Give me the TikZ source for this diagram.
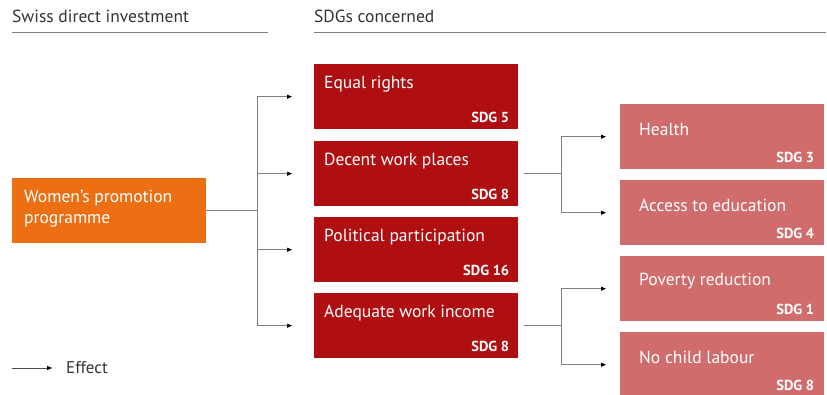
\documentclass[tikz,border=0pt]{standalone}
\usepackage{fontspec}
\setmainfont{PT Sans}
\usepackage{tikz}
\usetikzlibrary{positioning,arrows.meta,calc}
\usepackage{xcolor}
\definecolor{sdgorange}{HTML}{EC7013}
\definecolor{sdgred}{HTML}{B00F12}
\definecolor{sdgpink}{HTML}{D16C6D}
\definecolor{linegray}{HTML}{7F7F7F}
\definecolor{headgray}{HTML}{333333}

\begin{document}
\begin{tikzpicture}[
    x=1pt, y=-1pt,
    box/.style={rectangle, anchor=north west, minimum width=204pt, minimum height=65pt, inner sep=0pt},
    redbox/.style={box, fill=sdgred},
    pinkbox/.style={box, fill=sdgpink},
    boxtitle/.style={anchor=west, text=white, inner sep=0pt, font=\fontsize{17.5}{20}\selectfont},
    sdglabel/.style={anchor=east, text=white, inner sep=0pt, font=\fontsize{14.5}{17}\selectfont\bfseries},
    heading/.style={anchor=base west, text=headgray, inner sep=0pt, font=\fontsize{17.5}{20}\selectfont},
    effect/.style={draw=linegray, line width=0.8pt, -{Triangle[length=5pt, width=4pt, color=black]}, shorten >=22pt},
]
\useasboundingbox (0,0) rectangle (827,394);

% headings
\node[heading] (hleft) at (12,22) {Swiss direct investment};
\node[heading] (hright) at (314,22) {SDGs concerned};
\draw[linegray, line width=0.8pt] (12,32) -- (268,32);
\draw[linegray, line width=0.8pt] (314,32) -- (826,32);

% source
\node[box, fill=sdgorange, minimum width=194pt] (women) at (12,178) {};
\node[anchor=north west, align=left, text=white, inner sep=0pt, font=\fontsize{17.5}{21}\selectfont]
    (womentext) at (24,190) {Women's promotion\\programme};

% first level
\node[redbox] (equal) at (314,64) {};
\node[redbox] (decent) at (314,141) {};
\node[redbox] (political) at (314,217) {};
\node[redbox] (income) at (314,293) {};

% second level
\node[pinkbox] (health) at (620,104) {};
\node[pinkbox] (education) at (620,180) {};
\node[pinkbox] (poverty) at (620,256) {};
\node[pinkbox] (child) at (620,332) {};

% texts
\foreach \n/\t/\s in {equal/Equal rights/SDG 5, decent/Decent work places/SDG 8,
    political/Political participation/SDG 16, income/Adequate work income/SDG 8} {
    \node[boxtitle] at ([shift={(10,20)}]\n.north west) {\t};
    \node[sdglabel] at ([shift={(-9,-12)}]\n.south east) {\s};
}
\foreach \n/\t/\s in {health/Health/SDG 3, education/Access to education/SDG 4,
    poverty/Poverty reduction/SDG 1, child/No child labour/SDG 8} {
    \node[boxtitle] at ([shift={(19,25)}]\n.north west) {\t};
    \node[sdglabel] at ([shift={(-10,-12)}]\n.south east) {\s};
}

% effects
\draw[linegray, line width=0.8pt] (women.east) -- ++(51,0) coordinate (splitA);
\foreach \n in {equal, decent, political, income}
    \draw[effect] (splitA) |- (\n.west);
\draw[linegray, line width=0.8pt] ([xshift=6pt]decent.east) -- ++(37,0) coordinate (splitB);
\foreach \n in {health, education}
    \draw[effect, shorten >=14pt] (splitB) |- (\n.west);
\draw[linegray, line width=0.8pt] ([xshift=6pt]income.east) -- ++(37,0) coordinate (splitC);
\foreach \n in {poverty, child}
    \draw[effect, shorten >=14pt] (splitC) |- (\n.west);

% legend
\coordinate (legstart) at (12,368);
\coordinate (legend) at (52,368);
\draw[linegray!60!black, line width=0.8pt, -{Triangle[length=5pt, width=4pt, color=black]}] (legstart) -- (legend);
\node[anchor=west, text=headgray, inner sep=0pt, font=\fontsize{17}{20}\selectfont] (efftext) at (66,368) {Effect};
\end{tikzpicture}
\end{document}
